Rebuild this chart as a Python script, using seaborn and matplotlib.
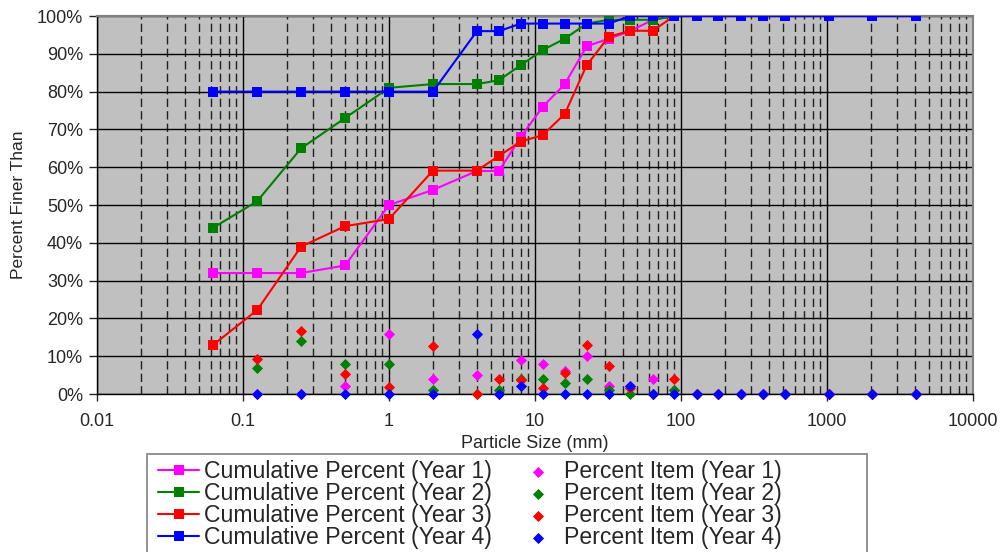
import numpy as np
import pandas as pd
import seaborn as sns
import matplotlib.pyplot as plt
from matplotlib.patches import Rectangle
from matplotlib.ticker import FixedLocator, FuncFormatter, NullFormatter

sns.set_style('white')
plt.rcParams['font.family'] = ['Liberation Sans', 'DejaVu Sans']

# sieve sizes (mm)
sizes = [0.0625, 0.125, 0.25, 0.5, 1, 2, 4, 5.66, 8, 11.3, 16, 22.6, 32, 45, 64, 90,
         128, 180, 256, 362, 512, 1024, 2048, 4096]

# cumulative percent finer
cum_y1 = [32, 32, 32, 34, 50, 54, 59, 59, 68, 76, 82, 92, 94, 96, 99, 100,
          100, 100, 100, 100, 100, 100, 100, 100]
cum_y2 = [44, 51, 65, 73, 81, 82, 82, 83, 87, 91, 94, 98, 99, 99, 99, 100,
          100, 100, 100, 100, 100, 100, 100, 100]
cum_y3 = [13, 22.2, 39, 44.4, 46.3, 59.1, 59.1, 63, 66.8, 68.5, 74.1, 87, 94.5, 96.1, 96.1, 100,
          100, 100, 100, 100, 100, 100, 100, 100]
cum_y4 = [80, 80, 80, 80, 80, 80, 96, 96, 98, 98, 98, 98, 98, 100, 100, 100,
          100, 100, 100, 100, 100, 100, 100, 100]

# percent item (from 0.125 mm up)
item_sizes = sizes[1:]
item_y1 = [0, 0, 2, 16, 4, 5, 0, 9, 8, 6, 10, 2, 2, 4, 1, 0, 0, 0, 0, 0, 0, 0, 0]
item_y2 = [7, 14, 8, 8, 1, 0, 1, 4, 4, 3, 4, 1, 0, 0, 1, 0, 0, 0, 0, 0, 0, 0, 0]
item_y3 = [9.2, 16.8, 5.4, 1.9, 12.8, 0, 3.9, 3.8, 1.7, 5.6, 12.9, 7.5, 1.6, 0, 3.9, 0, 0, 0, 0, 0, 0, 0, 0]
item_y4 = [0, 0, 0, 0, 0, 16, 0, 2, 0, 0, 0, 0, 2, 0, 0, 0, 0, 0, 0, 0, 0, 0, 0]

colors = ['#FF00FF', '#008000', '#FF0000', '#0000FF']
years = ['Year 1', 'Year 2', 'Year 3', 'Year 4']

fig = plt.figure(figsize=(10, 5.52), dpi=100)
ax = fig.add_axes([0.097, 0.2862, 0.876, 0.6848])
ax.set_facecolor('#C0C0C0')

for cum, c, yr in zip([cum_y1, cum_y2, cum_y3, cum_y4], colors, years):
    sns.lineplot(x=sizes, y=cum, ax=ax, color=c, marker='s', markersize=6.8,
                 markeredgewidth=0, linewidth=1.5, label='Cumulative Percent (%s)' % yr,
                 zorder=3)

for it, c, yr in zip([item_y1, item_y2, item_y3, item_y4], colors, years):
    sns.scatterplot(x=item_sizes, y=it, ax=ax, color=c, marker='D', s=32,
                    linewidth=0, label='Percent Item (%s)' % yr, zorder=4, clip_on=False)

ax.set_xscale('log')
ax.set_xlim(0.01, 10000)
ax.set_ylim(0, 100)

# grid: solid at decades and every 10%, dashed at the minor sizes
ax.xaxis.set_major_locator(FixedLocator([0.01, 0.1, 1, 10, 100, 1000, 10000]))
minors = [m * 10.0 ** e for e in range(-2, 4) for m in range(2, 10)]
ax.xaxis.set_minor_locator(FixedLocator(minors))
ax.xaxis.set_minor_formatter(NullFormatter())
ax.xaxis.set_major_formatter(FuncFormatter(lambda v, p: ('%g' % v)))
ax.set_yticks(range(0, 101, 10))
ax.yaxis.set_major_formatter(FuncFormatter(lambda v, p: '%d%%' % v))
ax.grid(True, which='major', axis='both', color='black', linewidth=1, zorder=1)
ax.grid(True, which='minor', axis='x', color='#202020', linewidth=1,
        linestyle=(0, (6, 3)), zorder=1)
ax.set_axisbelow(True)

ax.tick_params(axis='x', which='major', direction='out', length=5, width=1,
               pad=9, labelsize=13, bottom=True)
ax.tick_params(axis='x', which='minor', length=0)
ax.tick_params(axis='y', direction='out', length=6, width=1, pad=4,
               labelsize=13, left=True)

for s in ['top', 'right']:
    ax.spines[s].set_color('#808080')
    ax.spines[s].set_linewidth(1.5)
for s in ['left', 'bottom']:
    ax.spines[s].set_color('black')
    ax.spines[s].set_linewidth(1)

ax.set_xlabel('Particle Size (mm)', fontsize=13, labelpad=3)
ax.set_ylabel('Percent Finer Than', fontsize=12.5, labelpad=8)

handles, labels = ax.get_legend_handles_labels()
ax.legend_.remove()

# legend box (cut by the figure bottom, as in the source)
fig.patches.append(Rectangle((0.147, -0.05), 0.72, 0.2275, transform=fig.transFigure,
                             facecolor='white', edgecolor='#808080', linewidth=1.2,
                             zorder=0))
fig.legend(handles, labels, ncol=2, loc='upper left', bbox_to_anchor=(0.1555, 0.1714),
           frameon=False, fontsize=16.6, handlelength=1.8, handletextpad=0.22,
           columnspacing=1.1, labelspacing=-0.04, borderpad=0.1, borderaxespad=0,
           scatterpoints=1)

fig.savefig('out.png', dpi=100)
